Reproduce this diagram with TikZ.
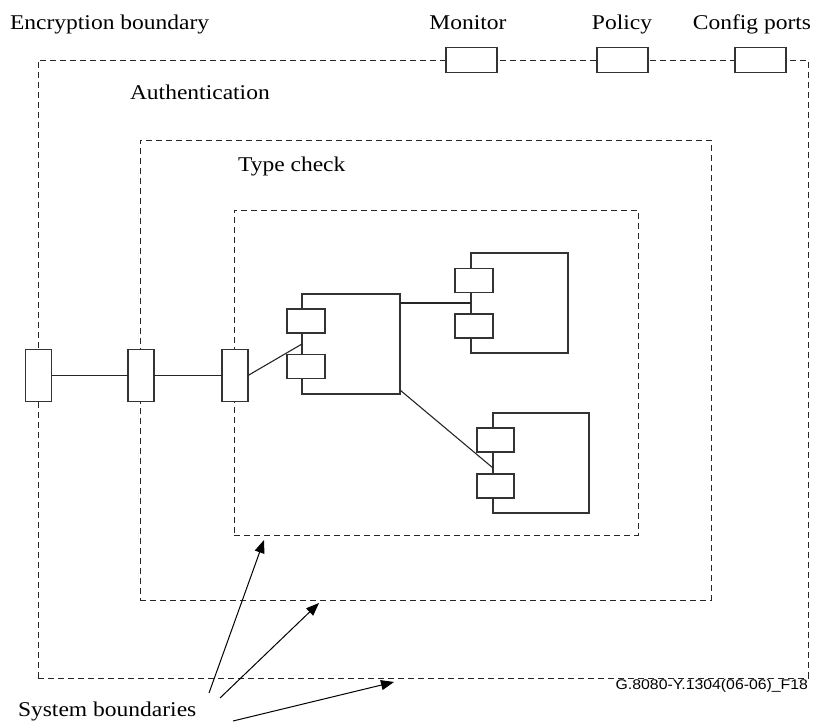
\documentclass[tikz,border=0pt]{standalone}
\usepackage{fontspec}
\setmainfont{Liberation Serif}
\newfontfamily\labsans{Liberation Sans}
\usetikzlibrary{arrows.meta}
\newcommand{\lab}[1]{\scalebox{1.12}[1]{\fontsize{21}{25}\selectfont #1}}
\newcommand{\tagtext}[1]{\scalebox{1.13}[1]{\labsans\fontsize{14}{17}\selectfont #1}}
\begin{document}
\begin{tikzpicture}[x=1pt,y=-1pt,
  boundary/.style={draw=black!85, dash pattern=on 6pt off 4pt, line width=0.9pt, inner sep=0pt, outer sep=0pt},
  port/.style={draw=black!80, fill=white, line width=1.2pt, inner sep=0pt, outer sep=0pt},
  comp/.style={draw=black!80, line width=1.2pt, inner sep=0pt, outer sep=0pt},
  wire/.style={draw=black!85, line width=1.1pt},
  pointer/.style={draw=black, line width=1pt, -{Triangle[length=13pt,width=10pt]}},
  txt/.style={inner sep=0pt, outer sep=0pt}]
\useasboundingbox (0,0) rectangle (816,722);
% boundaries
\node[boundary, minimum width=770pt, minimum height=618pt] (outer) at (423,369) {};
\node[boundary, minimum width=571pt, minimum height=460pt] (middle) at (425.5,370) {};
\node[boundary, minimum width=404pt, minimum height=325pt] (inner) at (436,372.5) {};
% components
\node[comp, minimum width=98pt, minimum height=100pt] (c0) at (351,344) {};
\node[comp, minimum width=97pt, minimum height=100pt] (c1) at (519.5,303) {};
\node[comp, minimum width=96pt, minimum height=100pt] (c2) at (541,463) {};
% left boundary ports
\node[port, minimum width=26pt, minimum height=52pt] (b1) at (38.5,375.5) {};
\node[port, minimum width=26pt, minimum height=52pt] (b2) at (141,375.5) {};
\node[port, minimum width=26pt, minimum height=52pt] (b3) at (235,375.5) {};
% wires
\draw[wire] (b1.east) -- (b2.west);
\draw[wire] (b2.east) -- (b3.west);
\draw[wire] (b3.east) -- (c0.west);
\draw[wire] ([yshift=-9pt]c0.north east) -- (c1.west);
\draw[wire] ([yshift=4pt]c0.south east) -- ([yshift=-5pt]c2.west);
% component ports
\node[port, minimum width=38pt, minimum height=24pt] (p0a) at (306,321) {};
\node[port, minimum width=38pt, minimum height=24pt] (p0b) at (306,366.5) {};
\node[port, minimum width=38pt, minimum height=24pt] (p1a) at (474,280.5) {};
\node[port, minimum width=38pt, minimum height=24pt] (p1b) at (474,326) {};
\node[port, minimum width=37pt, minimum height=24pt] (p2a) at (495.5,440) {};
\node[port, minimum width=37pt, minimum height=24pt] (p2b) at (495.5,486) {};
% top ports
\node[port, minimum width=51pt, minimum height=25pt] (mon) at (471.5,60) {};
\node[port, minimum width=51pt, minimum height=25pt] (pol) at (622.5,60) {};
\node[port, minimum width=51pt, minimum height=25pt] (cfg) at (760.5,60) {};
% texts
\node[txt, anchor=base west] (tenc) at (10,30) {\lab{Encryption boundary}};
\node[txt, anchor=base] (tmon) at (468,30) {\lab{Monitor}};
\node[txt, anchor=base] (tpol) at (622,30) {\lab{Policy}};
\node[txt, anchor=base] (tcfg) at (752,30) {\lab{Config ports}};
\node[txt, anchor=base west] (tauth) at (130,100) {\lab{Authentication}};
\node[txt, anchor=base west] (ttype) at (238,172) {\lab{Type check}};
\node[txt, anchor=base west] (tsys) at (18,716) {\lab{System boundaries}};
\node[txt, anchor=base east] (tfig) at (808,689) {\tagtext{G.8080-Y.1304(06-06)\_F18}};
% pointers
\coordinate (a1s) at (209,693);
\coordinate (a2s) at (220,698);
\coordinate (a3s) at (233,721);
\coordinate (a1t) at (264,540);
\coordinate (a2t) at (319,603);
\coordinate (a3t) at (394,682);
\draw[pointer] (a1s) -- (a1t);
\draw[pointer] (a2s) -- (a2t);
\draw[pointer] (a3s) -- (a3t);
\end{tikzpicture}
\end{document}
